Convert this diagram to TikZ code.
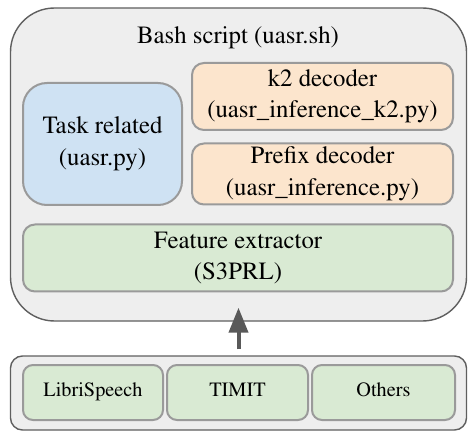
\documentclass[tikz,border=0pt]{standalone}
\usepackage[T1]{fontenc}
\usepackage{mathptmx}
\usetikzlibrary{positioning,arrows.meta}

\definecolor{shellfill}{HTML}{EEEEEE}
\definecolor{shelldraw}{HTML}{5F5F5F}
\definecolor{innerdraw}{HTML}{9A9A9A}
\definecolor{taskblue}{HTML}{CFE2F3}
\definecolor{decorange}{HTML}{FCE5CD}
\definecolor{featgreen}{HTML}{D9EAD3}
\definecolor{arrowgray}{HTML}{595959}

\begin{document}
\begin{tikzpicture}[x=1pt,y=-1pt,
every node/.style={font=\fontsize{24.8}{31.5}\selectfont, align=center, inner sep=0pt},
shell/.style={draw=shelldraw, fill=shellfill, line width=1.4pt},
inner/.style={draw=innerdraw, line width=2pt},
dataset/.style={inner, fill=featgreen, rounded corners=10pt, minimum height=55pt, text height=0.75em, text depth=0pt, font=\fontsize{20.3}{24}\selectfont}]
\useasboundingbox (0,0) rectangle (475,436);
% outer script box
\node[shell, rounded corners=44pt, minimum width=456pt, minimum height=313pt] (script) at (238.5,164.5) {};
\node (title) at (238,38) {Bash script (uasr.sh)};
\node[inner, fill=taskblue, rounded corners=24pt, minimum width=159pt, minimum height=122pt] (task) at (102.5,144) {Task related\\(uasr.py)};
\node[inner, fill=decorange, rounded corners=12pt, minimum width=261pt, minimum height=67pt] (k2) at (322.5,96.5) {k2 decoder\\(uasr\_inference\_k2.py)};
\node[inner, fill=decorange, rounded corners=12pt, minimum width=261pt, minimum height=61pt] (prefix) at (322.5,174) {Prefix decoder\\(uasr\_inference.py)};
\node[inner, fill=featgreen, rounded corners=12pt, minimum width=430pt, minimum height=67pt] (feat) at (238,258) {Feature extractor\\(S3PRL)};
% datasets
\node[shell, rounded corners=12pt, minimum width=456pt, minimum height=74pt] (data) at (238.5,393) {};
\node[dataset, minimum width=140pt] (libri) at (93,392.5) {LibriSpeech};
\node[dataset, minimum width=141pt] (timit) at (237.5,392.5) {TIMIT};
\node[dataset, minimum width=143pt] (others) at (383.5,392.5) {Others};
\draw[arrowgray, line width=4pt, -{Triangle[length=25pt,width=19pt]}, shorten <=6pt, shorten >=-14pt] (data.north) -- (script.south);
\end{tikzpicture}
\end{document}
